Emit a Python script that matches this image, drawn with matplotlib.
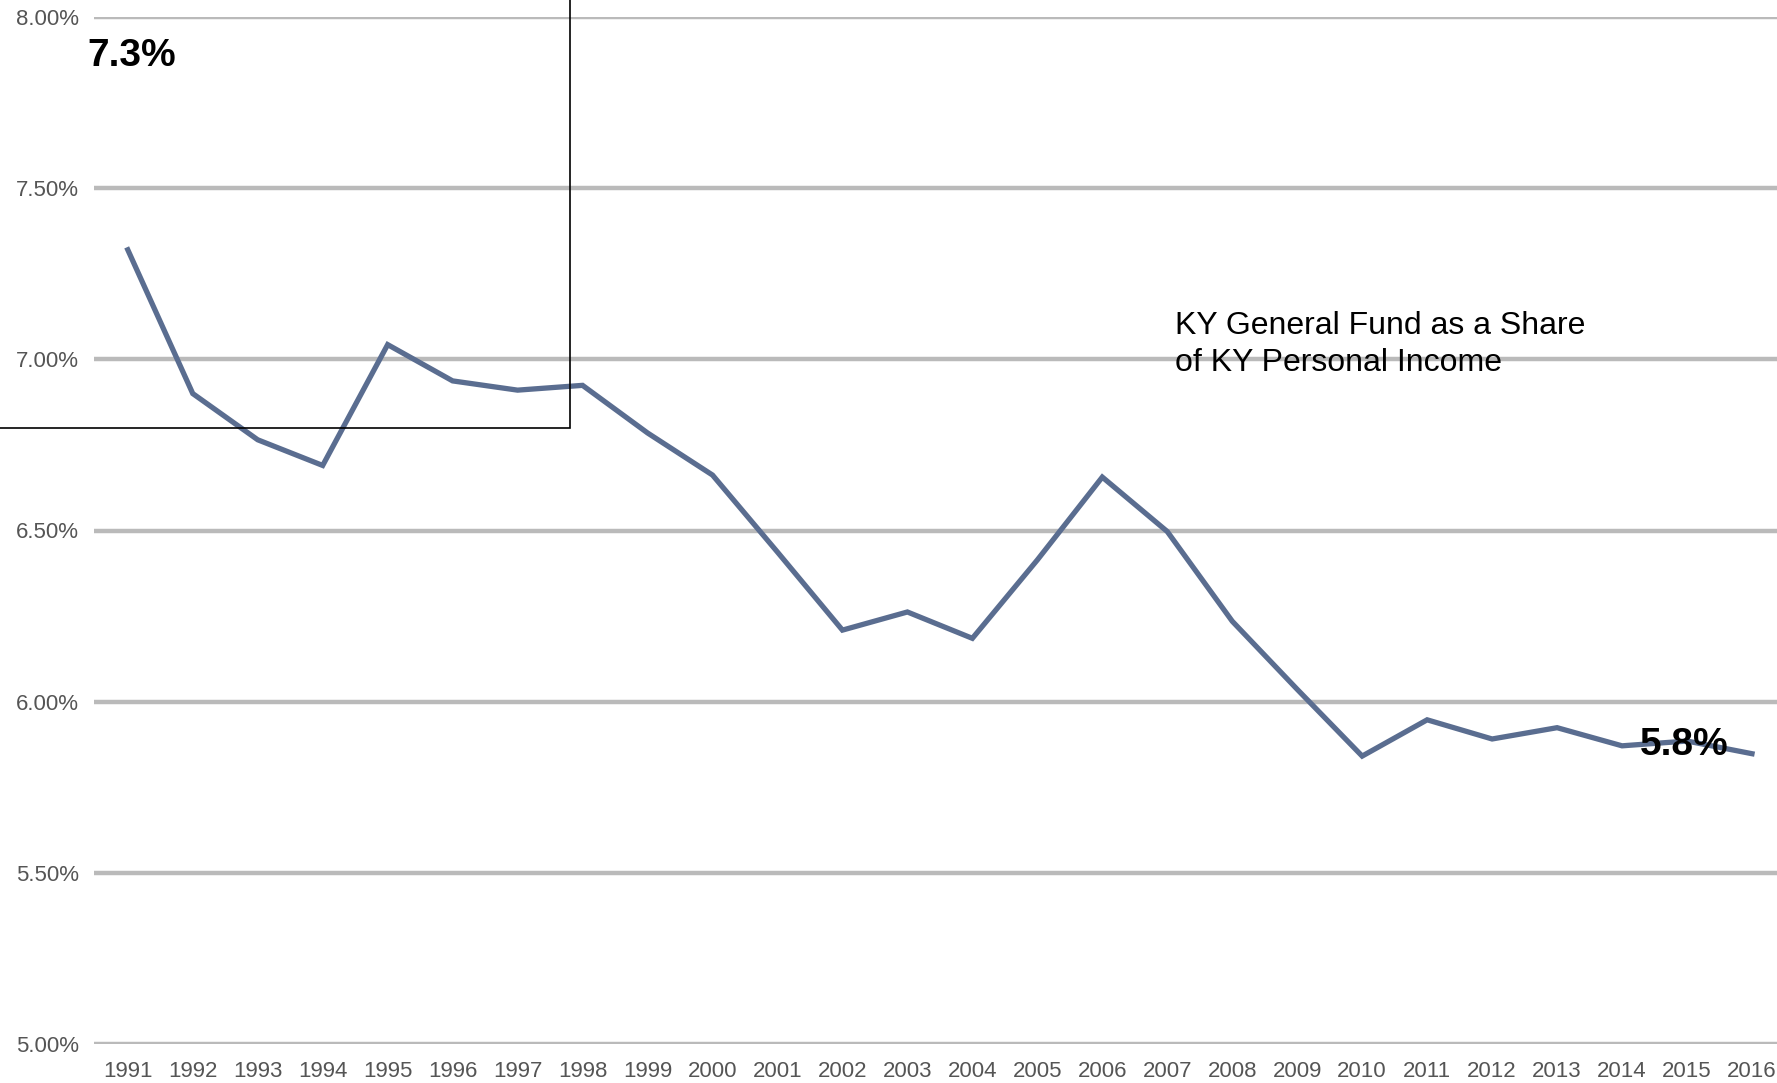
import matplotlib
matplotlib.use('Agg')
import matplotlib.pyplot as plt
from matplotlib.patches import Rectangle
from matplotlib.ticker import FuncFormatter

years = list(range(1991, 2017))
share = [7.32, 6.90, 6.765, 6.69, 7.043, 6.937, 6.91, 6.924, 6.785, 6.662,
         6.437, 6.209, 6.262, 6.185, 6.414, 6.656, 6.497, 6.235, 6.036, 5.841,
         5.947, 5.891, 5.924, 5.871, 5.885, 5.848]
y_ticks = [5.0, 5.5, 6.0, 6.5, 7.0, 7.5, 8.0]

plt.rcParams['font.family'] = ['Liberation Sans', 'DejaVu Sans']

W, H = 1777, 1083
fig = plt.figure(figsize=(W / 100, H / 100), dpi=100)
ax = fig.add_axes([94 / W, 1 - 1044 / H, 1 - 94 / W, (1044 - 17) / H])

ax.plot(years, share, color='#5a6d90', linewidth=3.8, zorder=3,
        solid_joinstyle='miter')

ax.set_xlim(1990.48, 2016.385)
ax.set_ylim(5.0, 8.0)
ax.set_yticks(y_ticks)
ax.set_xticks(years)
ax.yaxis.set_major_formatter(FuncFormatter(lambda v, p: '%.2f%%' % v))
for s in ax.spines.values():
    s.set_visible(False)
ax.grid(axis='y', color='#bababa', linewidth=3.2, zorder=1)
ax.set_axisbelow(True)
ax.tick_params(length=0, labelcolor='#555555', labelsize=16)
ax.tick_params(axis='y', pad=11)
ax.tick_params(axis='x', pad=12)

ax.text(87 / W, 1 - 56 / H, '7.3%', transform=fig.transFigure,
        fontsize=28, fontweight='bold', ha='left', va='center')
ax.text(1640 / W, 1 - 745 / H, '5.8%', transform=fig.transFigure,
        fontsize=28, fontweight='bold', ha='left', va='center', zorder=5)
fig.text(1175 / W, 1 - 311 / H, 'KY General Fund as a Share\nof KY Personal Income',
         fontsize=23, ha='left', va='top', linespacing=1.3)

fig.add_artist(Rectangle((-0.01, 1 - 428 / H), 570 / W + 0.01, 428 / H + 0.01,
                         transform=fig.transFigure, fill=False,
                         edgecolor='black', linewidth=1.2))

fig.savefig('out.png', dpi=100)
